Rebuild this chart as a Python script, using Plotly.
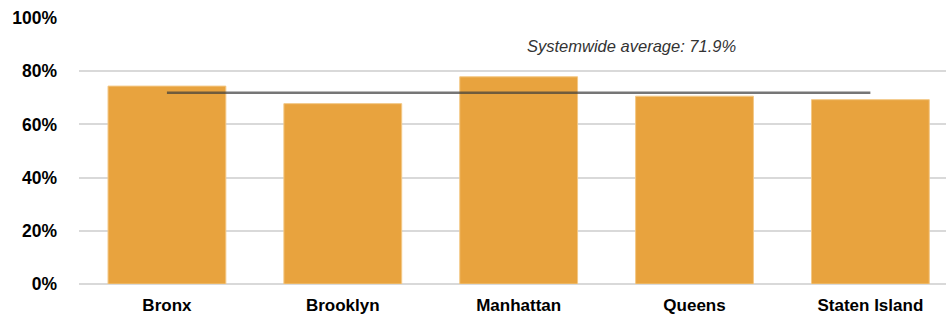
import plotly.graph_objects as go

boroughs = ["Bronx", "Brooklyn", "Manhattan", "Queens", "Staten Island"]
rates = [74.4, 67.8, 77.9, 70.6, 69.3]
systemwide_avg = 71.9
y_ticks = [0, 20, 40, 60, 80, 100]
y_tick_labels = ["0%", "20%", "40%", "60%", "80%", "100%"]

fig = go.Figure()

fig.add_trace(go.Bar(
    x=boroughs,
    y=rates,
    marker=dict(color="#E8A33E", line=dict(color="#F3C886", width=1)),
    width=0.67,
    hoverinfo="x+y",
))

# Systemwide average reference line across the borough centers
fig.add_trace(go.Scatter(
    x=[boroughs[0], boroughs[-1]],
    y=[systemwide_avg, systemwide_avg],
    mode="lines",
    line=dict(color="rgba(60,60,60,0.7)", width=2.5),
    hoverinfo="skip",
))

fig.add_annotation(
    x=2.64, y=89.5, xref="x", yref="y",
    text=f"Systemwide average: {systemwide_avg}%",
    showarrow=False,
    font=dict(family="Liberation Sans, Arial, sans-serif", size=16.5,
              color="#333333", style="italic"),
)

fig.update_layout(
    width=948, height=320,
    margin=dict(l=79, r=2, t=18, b=36),
    paper_bgcolor="white",
    plot_bgcolor="white",
    showlegend=False,
    font=dict(family="Liberation Sans, Arial, sans-serif", color="#000000"),
)

fig.update_xaxes(
    range=[-0.5, 4.43],
    showgrid=False,
    showline=False,
    ticks="",
    tickfont=dict(size=17, weight="bold"),
    ticklabelstandoff=9,
)

fig.update_yaxes(
    range=[0, 100],
    tickvals=y_ticks,
    ticktext=y_tick_labels,
    showgrid=True,
    gridcolor="#D9D9D9",
    gridwidth=1.5,
    zeroline=True,
    zerolinecolor="#D9D9D9",
    zerolinewidth=1.5,
    showline=False,
    ticks="",
    tickfont=dict(size=17.5, weight="bold"),
    ticklabelstandoff=21,
)

fig.write_html("out.html")
